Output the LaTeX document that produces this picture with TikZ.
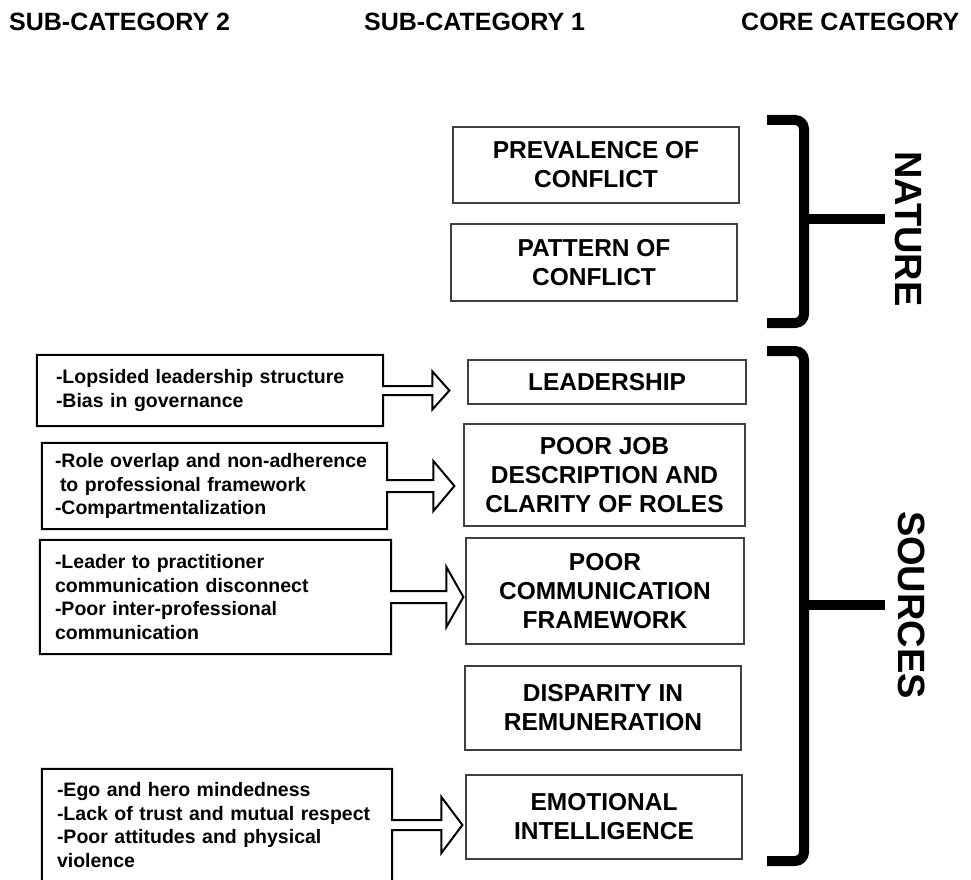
\documentclass[tikz,border=0pt]{standalone}
\usepackage{fontspec}
\setmainfont{Liberation Sans}
\usetikzlibrary{calc}

\begin{document}
\begin{tikzpicture}[x=1pt,y=-1pt]
\useasboundingbox (0,0) rectangle (971,880);
\begin{scope}[
  head/.style={anchor=base west,inner sep=0pt,font=\fontsize{25}{30}\selectfont\bfseries},
  corebox/.style={rectangle,draw=black!75,line width=1.2pt,align=center,
                  font=\fontsize{24.5}{29}\selectfont\bfseries},
  subbox/.style={rectangle,inner xsep=15pt,inner ysep=0pt,align=left,
                 font=\fontsize{19.5}{23.5}\selectfont\bfseries},
  callout/.style={draw,line width=2pt,line join=miter},
  brace/.style={line width=10pt,rounded corners=9pt},
  side/.style={rotate=-90,inner sep=0pt,font=\fontsize{38}{40}\selectfont\bfseries}]
    % column headings
    \node [head] (h2) at (9,31) {SUB-CATEGORY 2};
    \node [head] (h1) at (364,31) {SUB-CATEGORY 1};
    \node [head] (h0) at (741,31) {CORE CATEGORY};
    % sub-category 1
    \node [corebox,minimum width=286pt,minimum height=76pt] (prev) at (596,165) {PREVALENCE OF \\ CONFLICT};
    \node [corebox,minimum width=286pt,minimum height=77pt] (patt) at (594,262.5) {PATTERN OF \\ CONFLICT};
    \node [corebox,minimum width=278pt,minimum height=44pt] (lead) at (607,382) {LEADERSHIP};
    \node [corebox,minimum width=281pt,minimum height=102pt] (job) at (604.5,475) {POOR JOB \\ DESCRIPTION AND \\ CLARITY OF ROLES};
    \node [corebox,minimum width=278pt,minimum height=106pt] (comm) at (605,591) {POOR \\ COMMUNICATION \\ FRAMEWORK};
    \node [corebox,minimum width=276pt,minimum height=84pt] (disp) at (603,708) {DISPARITY IN \\ REMUNERATION};
    \node [corebox,minimum width=276pt,minimum height=84pt] (emo) at (604,817) {EMOTIONAL \\ INTELLIGENCE};
    % sub-category 2
    \node [subbox,inner xsep=19pt,text width=308pt,minimum height=71pt] (b1) at (210,390.5)
          {-Lopsided leadership structure \\ -Bias in governance};
    \node [subbox,inner xsep=13pt,text width=319pt,minimum height=86pt] (b2) at (214.5,486)
          {-Role overlap and non-adherence \\ \hspace*{5pt}to professional framework \\ -Compartmentalization};
    \node [subbox,text width=321pt,minimum height=114pt] (b3) at (215.5,597)
          {-Leader to practitioner \\ communication disconnect \\ -Poor inter-professional \\ communication};
    \node [subbox,text width=320pt,minimum height=112pt] (b4) at (217,825)
          {-Ego and hero mindedness \\ -Lack of trust and mutual respect \\ -Poor attitudes and physical \\ violence};
    % arrow callouts
    \draw [callout] (b1.north west) -- (b1.north east) -- ($(b1.east)+(0,-4.5)$)
          -- ($(b1.east -| lead.west)+(-35,-4.5)$) -- ($(b1.east -| lead.west)+(-35,-19)$)
          -- ($(b1.east -| lead.west)+(-18,0)$)
          -- ($(b1.east -| lead.west)+(-35,19)$) -- ($(b1.east -| lead.west)+(-35,4.5)$)
          -- ($(b1.east)+(0,4.5)$) -- (b1.south east) -- (b1.south west) -- cycle;
    \draw [callout] (b2.north west) -- (b2.north east) -- ($(b2.east)+(0,-6)$)
          -- ($(b2.east -| job.west)+(-30,-6)$) -- ($(b2.east -| job.west)+(-30,-25)$)
          -- ($(b2.east -| job.west)+(-9,0)$)
          -- ($(b2.east -| job.west)+(-30,25)$) -- ($(b2.east -| job.west)+(-30,6)$)
          -- ($(b2.east)+(0,6)$) -- (b2.south east) -- (b2.south west) -- cycle;
    \draw [callout] (b3.north west) -- (b3.north east) -- ($(b3.east)+(0,-6)$)
          -- ($(b3.east -| comm.west)+(-19,-6)$) -- ($(b3.east -| comm.west)+(-19,-30)$)
          -- ($(b3.east -| comm.west)+(-2,0)$)
          -- ($(b3.east -| comm.west)+(-19,30)$) -- ($(b3.east -| comm.west)+(-19,6)$)
          -- ($(b3.east)+(0,6)$) -- (b3.south east) -- (b3.south west) -- cycle;
    \draw [callout] (b4.north west) -- (b4.north east) -- ($(b4.east)+(0,-5)$)
          -- ($(b4.east -| emo.west)+(-24,-5)$) -- ($(b4.east -| emo.west)+(-24,-28)$)
          -- ($(b4.east -| emo.west)+(-3,0)$)
          -- ($(b4.east -| emo.west)+(-24,28)$) -- ($(b4.east -| emo.west)+(-24,5)$)
          -- ($(b4.east)+(0,5)$) -- (b4.south east) -- (b4.south west) -- cycle;
    % core category
    \draw [brace] (767,120) -- (804,120) -- (804,323) -- (767,323);
    \draw [brace] (804,219) -- (885,219);
    \node [side] (nature) at (908,229) {NATURE};
    \draw [brace] (767,351) -- (804,351) -- (804,861) -- (767,861);
    \draw [brace] (804,605) -- (885,605);
    \node [side] (sources) at (912,605) {SOURCES};
\end{scope}
\end{tikzpicture}
\end{document}
